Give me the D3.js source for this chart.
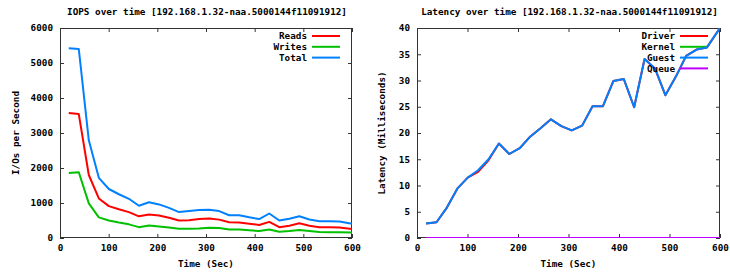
<!DOCTYPE html>
<html>
<head>
<meta charset="utf-8">
<script src="https://cdn.jsdelivr.net/npm/d3@7"></script>
<style>
  body { margin: 0; background: #fff; }
  svg text { font-family: "DejaVu Sans Mono", monospace; font-weight: bold; font-size: 9.3px; fill: #000; }
  .line-path { fill: none; stroke-width: 2; stroke-linejoin: round; }
  .border { fill: none; stroke: #333; stroke-width: 1; }
</style>
</head>
<body>
<svg width="730" height="276"></svg>
<script>
// sample times (sec)
const times = [18, 38.6, 59.2, 79.8, 100.4, 121, 141.6, 162.2, 182.8, 203.4, 224, 244.6, 265.2, 285.8,
  306.4, 327, 347.6, 368.2, 388.8, 409.4, 430, 450.6, 471.2, 491.8, 512.4, 533, 553.6, 574.2, 600];

const reads = [3570, 3540, 1800, 1130, 910, 820, 740, 620, 670, 640, 580, 500, 510, 540,
  560, 525, 450, 440, 410, 370, 460, 310, 350, 420, 350, 310, 310, 300, 260];
const writes = [1860, 1880, 990, 590, 500, 440, 390, 310, 360, 330, 300, 265, 265, 270,
  290, 285, 245, 240, 220, 200, 245, 180, 200, 230, 200, 170, 165, 165, 160];
const total = [5420, 5400, 2790, 1720, 1400, 1250, 1120, 920, 1020, 960, 860, 740, 770, 800,
  810, 770, 650, 650, 590, 540, 700, 500, 550, 620, 530, 480, 480, 470, 410];

const driver = [2.75, 3.0, 5.8, 9.4, 11.5, 12.6, 14.8, 18.0, 16.0, 17.1, 19.3, 20.9, 22.6, 21.3,
  20.5, 21.4, 25.1, 25.1, 29.9, 30.3, 24.9, 34.1, 32.3, 27.2, 30.7, 34.7, 35.9, 36.3, 40];
const kernel = times.map(() => 0);
const guest = [2.75, 3.0, 5.8, 9.4, 11.5, 12.9, 15.0, 18.0, 16.0, 17.1, 19.3, 20.9, 22.6, 21.3,
  20.5, 21.4, 25.1, 25.1, 29.9, 30.3, 24.9, 34.1, 32.3, 27.2, 30.7, 34.7, 35.9, 36.3, 40];
const queue = times.map(() => 0);

const xTicks = [0, 100, 200, 300, 400, 500, 600];
const iopsTicks = [0, 1000, 2000, 3000, 4000, 5000, 6000];
const latTicks = [0, 5, 10, 15, 20, 25, 30, 35, 40];

const svg = d3.select('svg');

const drawPanel = (opts) => {
  const { left, right, top, bottom, yMax, yTicks, title, yLabel, yLabelX, series, id } = opts;

  const xScale = d3.scaleLinear().domain([0, 600]).range([left, right]);
  const yScale = d3.scaleLinear().domain([0, yMax]).range([bottom, top]);

  const g = svg.append('g');

  g.append('clipPath').attr('id', id)
    .append('rect')
      .attr('x', left).attr('y', top)
      .attr('width', right - left).attr('height', bottom - top);

  // axes with inward ticks, mirrored
  const tick = 4;
  const fmt = d3.format('d');
  const xb = g.append('g').attr('transform', `translate(0,${bottom})`)
    .call(d3.axisBottom(xScale).tickValues(xTicks).tickFormat(fmt).tickSize(-tick).tickPadding(8));
  const xt = g.append('g').attr('transform', `translate(0,${top})`)
    .call(d3.axisTop(xScale).tickValues(xTicks).tickSize(-tick).tickFormat(''));
  const yl = g.append('g').attr('transform', `translate(${left},0)`)
    .call(d3.axisLeft(yScale).tickValues(yTicks).tickFormat(fmt).tickSize(-tick).tickPadding(7));
  const yr = g.append('g').attr('transform', `translate(${right},0)`)
    .call(d3.axisRight(yScale).tickValues(yTicks).tickSize(-tick).tickFormat(''));

  [xb, xt, yl, yr].forEach(a => {
    a.selectAll('.domain').remove();
    a.selectAll('line').attr('stroke', '#333');
    a.attr('font-family', null).attr('font-size', null);
  });
  xb.selectAll('text').attr('dy', '0.5em');

  g.append('rect').attr('class', 'border')
    .attr('x', left + 0.5).attr('y', top + 0.5)
    .attr('width', right - left - 1).attr('height', bottom - top - 1);

  g.append('text')
    .attr('x', (left + right) / 2 + 1)
    .attr('y', 15)
    .attr('text-anchor', 'middle')
    .text(title);

  g.append('text')
    .attr('x', (left + right) / 2)
    .attr('y', 267)
    .attr('text-anchor', 'middle')
    .text('Time (Sec)');

  g.append('text')
    .attr('transform', `translate(${yLabelX},${(top + bottom) / 2}) rotate(-90)`)
    .attr('text-anchor', 'middle')
    .text(yLabel);

  const lineGen = d3.line()
    .x((d, i) => xScale(times[i]))
    .y(d => yScale(d));

  // key entry then its line, as gnuplot does
  const keyTextX = right - 45;
  series.forEach((s, i) => {
    const ky = 36 + i * 10.8;
    g.append('text')
      .attr('x', keyTextX)
      .attr('y', ky)
      .attr('dy', '0.35em')
      .attr('text-anchor', 'end')
      .text(s.name);
    g.append('line')
      .attr('x1', keyTextX + 5).attr('x2', right - 12)
      .attr('y1', ky).attr('y2', ky)
      .attr('stroke', s.color).attr('stroke-width', 2);
    g.append('path')
      .attr('class', 'line-path')
      .attr('clip-path', `url(#${id})`)
      .attr('stroke', s.color)
      .attr('d', lineGen(s.values));
  });
};

drawPanel({
  id: 'clipL', left: 60, right: 352, top: 28, bottom: 238,
  yMax: 6000, yTicks: iopsTicks, yLabelX: 19,
  title: 'IOPS over time [192.168.1.32-naa.5000144f11091912]',
  yLabel: 'I/Os per Second',
  series: [
    { name: 'Reads', color: '#ff0000', values: reads },
    { name: 'Writes', color: '#00c000', values: writes },
    { name: 'Total', color: '#0080ff', values: total }
  ]
});

drawPanel({
  id: 'clipR', left: 417, right: 720, top: 28, bottom: 238,
  yMax: 40, yTicks: latTicks, yLabelX: 385,
  title: 'Latency over time [192.168.1.32-naa.5000144f11091912]',
  yLabel: 'Latency (Milliseconds)',
  series: [
    { name: 'Driver', color: '#ff0000', values: driver },
    { name: 'Kernel', color: '#00c000', values: kernel },
    { name: 'Guest', color: '#0080ff', values: guest },
    { name: 'Queue', color: '#c000ff', values: queue }
  ]
});
</script>
</body>
</html>
